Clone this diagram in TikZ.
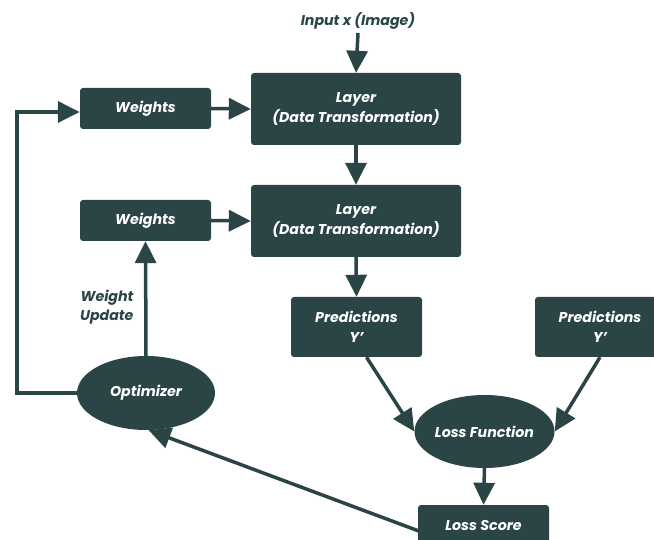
\documentclass[tikz,border=0pt]{standalone}
\usepackage{fontspec}
\setmainfont{Poppins}
\usetikzlibrary{arrows.meta,shapes.geometric,calc}
\definecolor{dk}{HTML}{2B4446}
\begin{document}
\begin{tikzpicture}[x=1pt,y=-1pt,
  lbl/.style={font=\fontsize{14.2}{19.5}\selectfont\bfseries\itshape, align=center},
  box/.style={lbl, fill=dk, text=white, rounded corners=3pt, inner sep=0pt},
  oval/.style={lbl, ellipse, fill=dk, text=white, inner sep=0pt},
  arr/.style={draw=dk, line width=3.5pt, -{Triangle[length=22pt,width=21pt]}},
  ln/.style={draw=dk, line width=3.5pt}]
\useasboundingbox (0,0) rectangle (654,540);
\clip (0,0) rectangle (654,540);
\node[lbl, text=dk] (inp) at (358,21) {Input x (Image)};
\node[box, minimum width=210pt, minimum height=72pt] (l1) at (356,109) {Layer\\(Data Transformation)};
\node[box, minimum width=131pt, minimum height=41pt] (w1) at (145.5,108.5) {Weights};
\node[box, minimum width=210pt, minimum height=72pt] (l2) at (356,221) {Layer\\(Data Transformation)};
\node[box, minimum width=131pt, minimum height=41pt] (w2) at (145.5,220.5) {Weights};
\node[box, minimum width=131pt, minimum height=60pt] (p1) at (356.5,327) {Predictions\\Y\textquoteright};
\node[box, minimum width=130pt, minimum height=60pt] (p2) at (600,327) {Predictions\\Y\textquoteright};
\node[oval, minimum width=138pt, minimum height=74pt] (opt) at (146,393) {Optimizer};
\node[oval, minimum width=138pt, minimum height=73pt] (lf) at (484.5,431.5) {Loss Function};
\node[box, minimum width=131pt, minimum height=42pt] (ls) at (483.5,526) {Loss Score};
\node[lbl, text=dk, align=right, anchor=east] (wu) at (137,307) {Weight\\Update};
\coordinate (cl) at (17,393);
\coordinate (ct) at (17,112);
\draw[arr] (inp.south) -- (l1.north);
\draw[arr] (w1.east) -- (l1.west);
\draw[arr] (l1.south) -- (l2.north);
\draw[arr] (w2.east) -- (l2.west);
\draw[arr] (l2.south) -- (p1.north);
\draw[arr] ($(p1.south)+(10,0)$) -- (lf.west);
\draw[arr] ($(p2.south)+(0,0)$) -- (lf.east);
\draw[arr] (lf.south) -- (ls.north);
\draw[arr] ($(ls.west)+(1,5)$) -- (opt.-86);
\draw[arr] (opt.north) -- (w2.south);
\draw[ln] (opt.west) -- (cl) -- (ct) -- ++(10,0);
\draw[arr] ($(ct)+(-1.75,0)$) -- (w1.west |- ct);
\end{tikzpicture}
\end{document}
